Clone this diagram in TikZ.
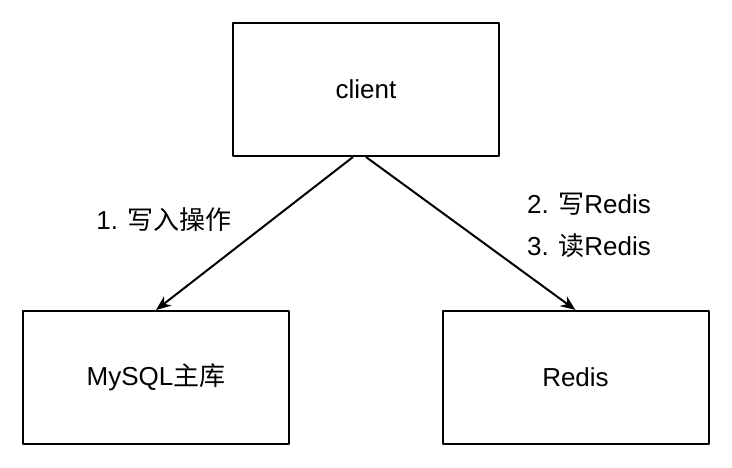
\documentclass[tikz,border=0pt]{standalone}
\usepackage{fontspec}
\setmainfont{Liberation Sans}
\newfontfamily\cjk{Noto Sans CJK SC}
\usetikzlibrary{arrows.meta, calc}
\tikzset{>={Stealth[length=15pt,width=12pt]}}

\begin{document}
\begin{tikzpicture}[x=1pt, y=-1pt, line width=2pt, line join = round,
    box/.style={draw, minimum width=266pt, minimum height=133pt, inner sep=0pt, font=\fontsize{26}{30}\selectfont},
    lbl/.style={font=\fontsize{26}{42}\selectfont, align=left, inner sep=0pt}]
    \useasboundingbox (0,0) rectangle (732,467);
    \node[box] (client) at (366,89.5) {client};
    \node[box] (mysql) at (156,377.5) {MySQL{\cjk 主库}};
    \node[box] (redis) at (575.5,377.5) {Redis};
    \draw[->] ($(client.south)+(-13,0)$) -- (mysql.north);
    \draw[->] (client.south) -- (redis.north);
    \node[lbl] (write) at (164,220) {1. {\cjk 写入操作}};
    \node[lbl] (cache) at (589,225) {2. {\cjk 写}Redis\\3. {\cjk 读}Redis};
\end{tikzpicture}
\end{document}
